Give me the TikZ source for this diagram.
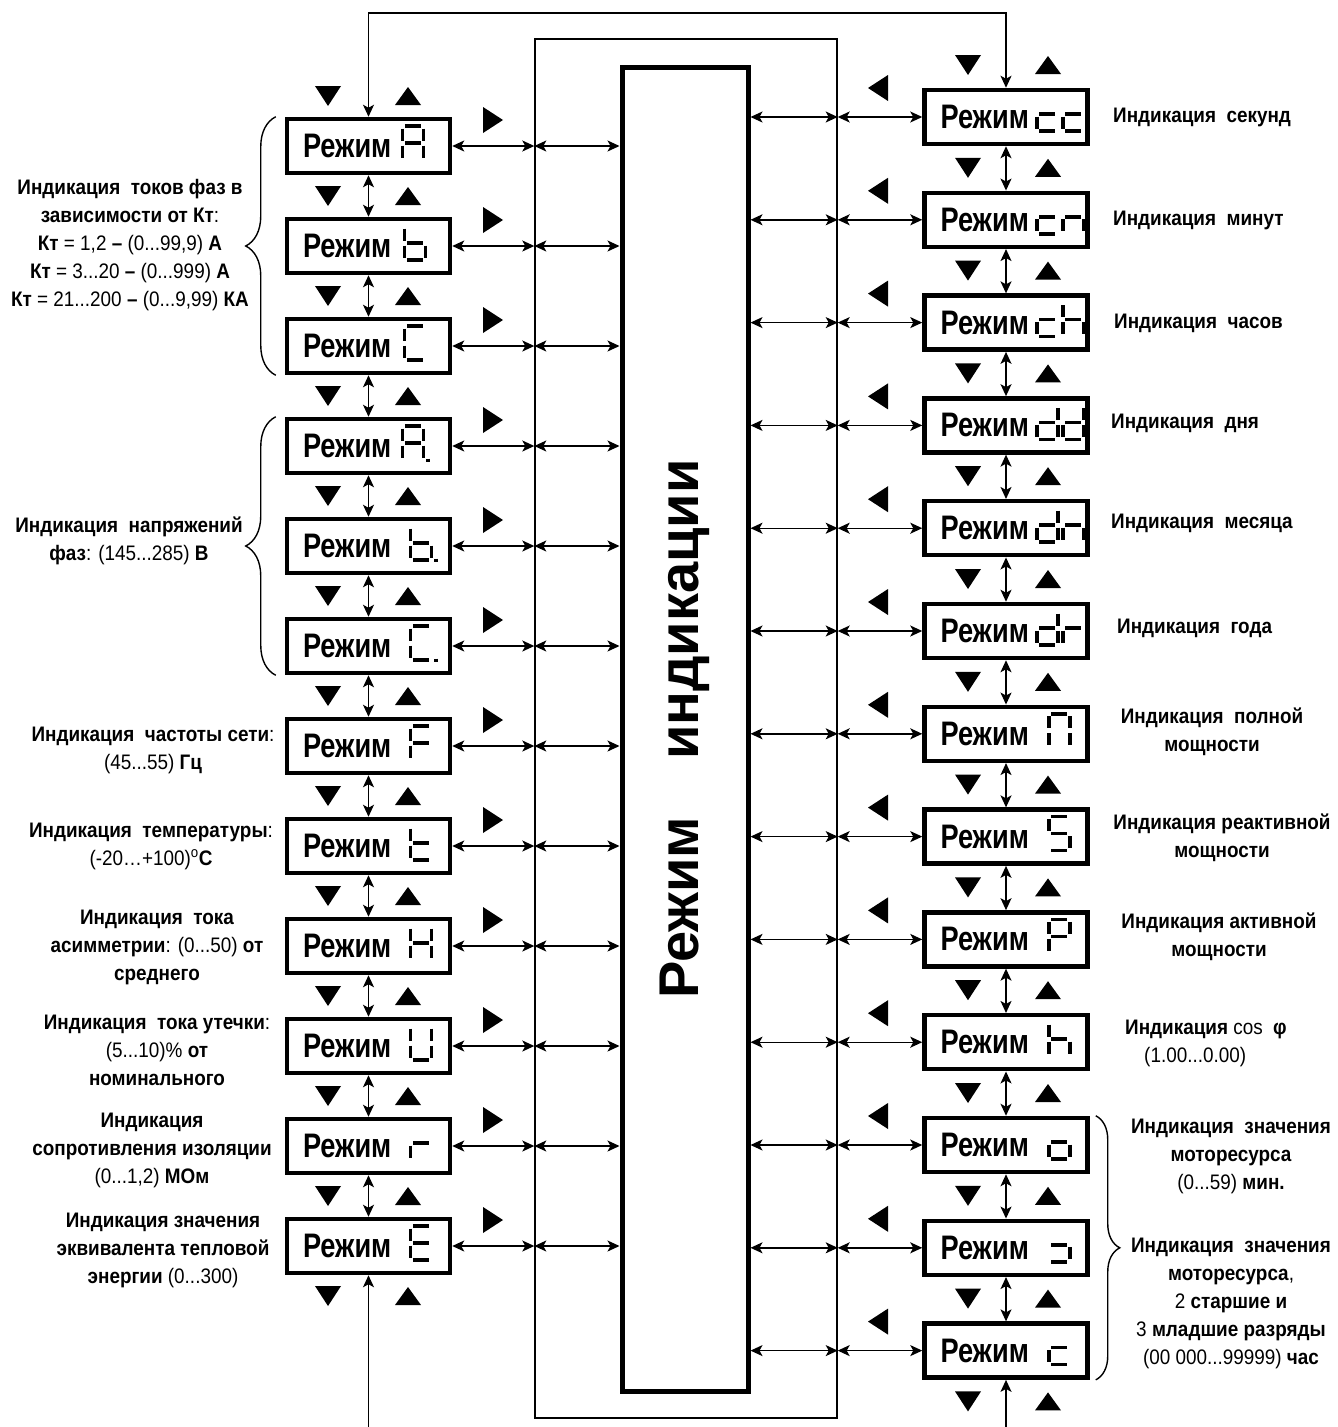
\documentclass[tikz,border=0pt]{standalone}
\usepackage{fontspec}
\setmainfont{Liberation Sans}[FakeStretch=0.9]
\newfontfamily\titlefont{Liberation Sans}
\newfontfamily\modefont{Liberation Sans}[FakeStretch=0.8]
\usetikzlibrary{arrows.meta,calc,decorations.pathreplacing}
\tikzstyle{mode}=[draw, line width=4.5pt, minimum width=163pt, minimum height=54pt, inner sep=0pt, font=\modefont\fontsize{34}{38}\selectfont\bfseries]
\tikzstyle{lbl}=[inner sep=0pt, align=center, font=\fontsize{21}{28}\selectfont\bfseries]
\tikzstyle{seg}=[line width=3.5pt]
\tikzstyle{wire}=[line width=1.4pt, >={Stealth[length=12pt,width=11pt,inset=3pt]}]
\tikzstyle{link}=[wire, <->]
\tikzset{brc/.style={line width=1.4pt, decorate, decoration={brace, amplitude=#1}}}
\newcommand{\rg}[1]{{\mdseries #1}}
\newcommand{\modetext}{\makebox[131pt][l]{Режим}}
\newcommand{\trdown}[2]{\fill[shift={(#1,#2)}] (-13,-10) -- (13,-10) -- (0,10) -- cycle;}
\newcommand{\trup}[2]{\fill[shift={(#1,#2)}] (-13,9) -- (13,9) -- (0,-9) -- cycle;}
\newcommand{\trright}[2]{\fill[shift={(#1,#2)}] (-9,-13) -- (-9,13) -- (11,0) -- cycle;}
\newcommand{\trleft}[2]{\fill[shift={(#1,#2)}] (10,-13) -- (10,13) -- (-10,0) -- cycle;}
\newcommand{\segdigit}[3]{
\begin{scope}[shift={($(#1)+(#2,-20)$)}]
\coordinate (sa1) at (2.5,0); \coordinate (sa2) at (18.5,0);
\coordinate (sb1) at (21,2.5); \coordinate (sb2) at (21,14.5);
\coordinate (sc1) at (21,19.5); \coordinate (sc2) at (21,31.5);
\coordinate (sd1) at (2.5,34); \coordinate (sd2) at (18.5,34);
\coordinate (se1) at (0,19.5); \coordinate (se2) at (0,31.5);
\coordinate (sf1) at (0,2.5); \coordinate (sf2) at (0,14.5);
\coordinate (sg1) at (2.5,17); \coordinate (sg2) at (18.5,17);
\coordinate (sp1) at (25.5,32.5); \coordinate (sp2) at (25.5,35.5);
\foreach \seg in {#3} \draw[seg] (s\seg1) -- (s\seg2);
\end{scope}
}
\begin{document}
\begin{tikzpicture}[x=1pt,y=-1pt]
\useasboundingbox (0,0) rectangle (1338,1427);
\coordinate (top) at (0,13);
\coordinate (bot) at (0,1427);
\node[draw, line width=1.4pt, minimum width=302pt, minimum height=1379pt, inner sep=0pt] (outer) at (686,728.5) {};
\node[draw, line width=5pt, minimum width=126pt, minimum height=1324pt, inner sep=0pt] (disp) at (685,729) {};
\node[rotate=90, inner sep=0pt, font=\titlefont\bfseries\fontsize{56}{60}\selectfont] (title) at (disp.center) {Режим\hspace{57pt}индикации};

\foreach \i in {0,...,11} \node[mode] (l\i) at (368.5,{146+100*\i}) {\modetext};
\foreach \j in {0,...,12} \node[mode] (r\j) at (1006,{117+102.8*\j}) {\modetext};

\foreach \i [count=\j] in {0,...,10} \draw[link] (l\i.south) -- (l\j.north);
\foreach \i [count=\j] in {0,...,11} \draw[link] (r\i.south) -- (r\j.north);
\foreach \i in {0,...,11} {
\draw[link] (l\i.east) -- (l\i.east -| outer.west);
\draw[link] (l\i.east -| outer.west) -- (l\i.east -| disp.west);
}
\foreach \j in {0,...,12} {
\draw[link] (r\j.west -| disp.east) -- (r\j.west -| outer.east);
\draw[link] (r\j.west -| outer.east) -- (r\j.west);
}
\draw[link] (l0.north) -- (l0.north |- top) -- (r0.north |- top) -- (r0.north);
\draw[wire,->] (l11.south |- bot) -- (l11.south);
\draw[wire,->] (r12.south |- bot) -- (r12.south);

\foreach \k in {0,...,12} {\trdown{328}{96+100*\k} \trup{408}{96+100*\k}}
\foreach \k in {0,...,13} {\trdown{968}{65+102.8*\k} \trup{1048}{65+102.8*\k}}
\foreach \i in {0,...,11} \trright{492}{120+100*\i};
\foreach \j in {0,...,12} \trleft{878}{88+102.8*\j};

\segdigit{l0.east}{-50}{a,b,c,e,f,g}
\segdigit{l1.east}{-48}{f,e,g,c,d}
\segdigit{l2.east}{-48}{a,f,e,d}
\segdigit{l3.east}{-50}{a,b,c,e,f,g,p}
\segdigit{l4.east}{-42}{f,e,g,c,d,p}
\segdigit{l5.east}{-42}{a,f,e,d,p}
\segdigit{l6.east}{-42}{a,f,e,g}
\segdigit{l7.east}{-42}{f,e,g,d}
\segdigit{l8.east}{-42}{b,c,e,f,g}
\segdigit{l9.east}{-42}{b,c,d,e,f}
\segdigit{l10.east}{-42}{e,g}
\segdigit{l11.east}{-42}{a,d,e,f,g}

\segdigit{r0.east}{-53}{g,e,d} \segdigit{r0.east}{-27}{g,e,d}
\segdigit{r1.east}{-53}{g,e,d} \segdigit{r1.east}{-27}{g,e,c}
\segdigit{r2.east}{-53}{g,e,d} \segdigit{r2.east}{-27}{f,e,g,c}
\segdigit{r3.east}{-53}{b,c,d,e,g} \segdigit{r3.east}{-27}{b,c,d,e,g}
\segdigit{r4.east}{-53}{b,c,d,e,g} \segdigit{r4.east}{-27}{g,e,c}
\segdigit{r5.east}{-53}{b,c,d,e,g} \segdigit{r5.east}{-27}{e,g}
\segdigit{r6.east}{-41}{a,b,c,e,f}
\segdigit{r7.east}{-41}{a,f,g,c,d}
\segdigit{r8.east}{-41}{a,b,f,g,e}
\segdigit{r9.east}{-41}{f,e,g,c}
\segdigit{r10.east}{-41}{g,c,d,e}
\segdigit{r11.east}{-41}{g,c,d}
\segdigit{r12.east}{-41}{g,e,d}

\draw[brc=30] ($(l2.south west)+(-9,0)$) -- ($(l0.north west)+(-9,0)$);
\draw[brc=30] ($(l5.south west)+(-9,0)$) -- ($(l3.north west)+(-9,0)$);
\draw[brc=24] ($(r10.north east)+(6,0)$) -- ($(r12.south east)+(6,0)$);

\node[lbl] (tcur) at (130,245) {Индикация\ \ токов фаз в\\зависимости от Кт\rg{:}\\Кт \rg{= 1,2} – \rg{(0...99,9)} А\\Кт \rg{= 3...20} – \rg{(0...999)} А\\Кт \rg{= 21...200} – \rg{(0...9,99)} КА};
\node[lbl] (tvolt) at (129,541) {Индикация\ \ напряжений\\фаз\rg{: (145...285)} В};
\node[lbl] (tfreq) at (153,750) {Индикация\ \ частоты сети\rg{:}\\\rg{(45...55)} Гц};
\node[lbl] (ttemp) at (151,846) {Индикация\ \ температуры\rg{:}\\\rg{(-20…+100)\textsuperscript{o}}С};
\node[lbl] (tasym) at (157,947) {Индикация\ \ тока\\асимметрии\rg{: (0...50)} от\\среднего};
\node[lbl] (tleak) at (157,1050) {Индикация\ \ тока утечки\rg{:}\\\rg{(5...10)\%} от\\номинального};
\node[lbl] (tiso) at (152,1150) {Индикация\\сопротивления изоляции\\\rg{(0...1,2)} МОм};
\node[lbl] (theat) at (163,1250) {Индикация значения\\эквивалента тепловой\\энергии \rg{(0...300)}};

\node[lbl, anchor=west] (tsec) at (1113,117) {Индикация\ \ секунд};
\node[lbl, anchor=west] (tmin) at (1113,220) {Индикация\ \ минут};
\node[lbl, anchor=west] (thour) at (1114,323) {Индикация\ \ часов};
\node[lbl, anchor=west] (tday) at (1111,423) {Индикация\ \ дня};
\node[lbl, anchor=west] (tmon) at (1111,523) {Индикация\ \ месяца};
\node[lbl, anchor=west] (tyear) at (1117,628) {Индикация\ \ года};
\node[lbl] (tfull) at (1212,732) {Индикация\ \ полной\\мощности};
\node[lbl] (treac) at (1222,838) {Индикация реактивной\\мощности};
\node[lbl] (tact) at (1219,937) {Индикация активной\\мощности};
\node[lbl, align=left, anchor=west] (tcos) at (1125,1043) {Индикация \rg{cos}\ \ φ\\\hspace*{19pt}\rg{(1.00...0.00)}};
\node[lbl] (tmot) at (1231,1156) {Индикация\ \ значения\\моторесурса\\\rg{(0...59)} мин.};
\node[lbl] (tmoth) at (1231,1303) {Индикация\ \ значения\\моторесурса\rg{,}\\\rg{2} старшие и\\\rg{3} младшие разряды\\\rg{(00 000...99999)} час};
\end{tikzpicture}
\end{document}
